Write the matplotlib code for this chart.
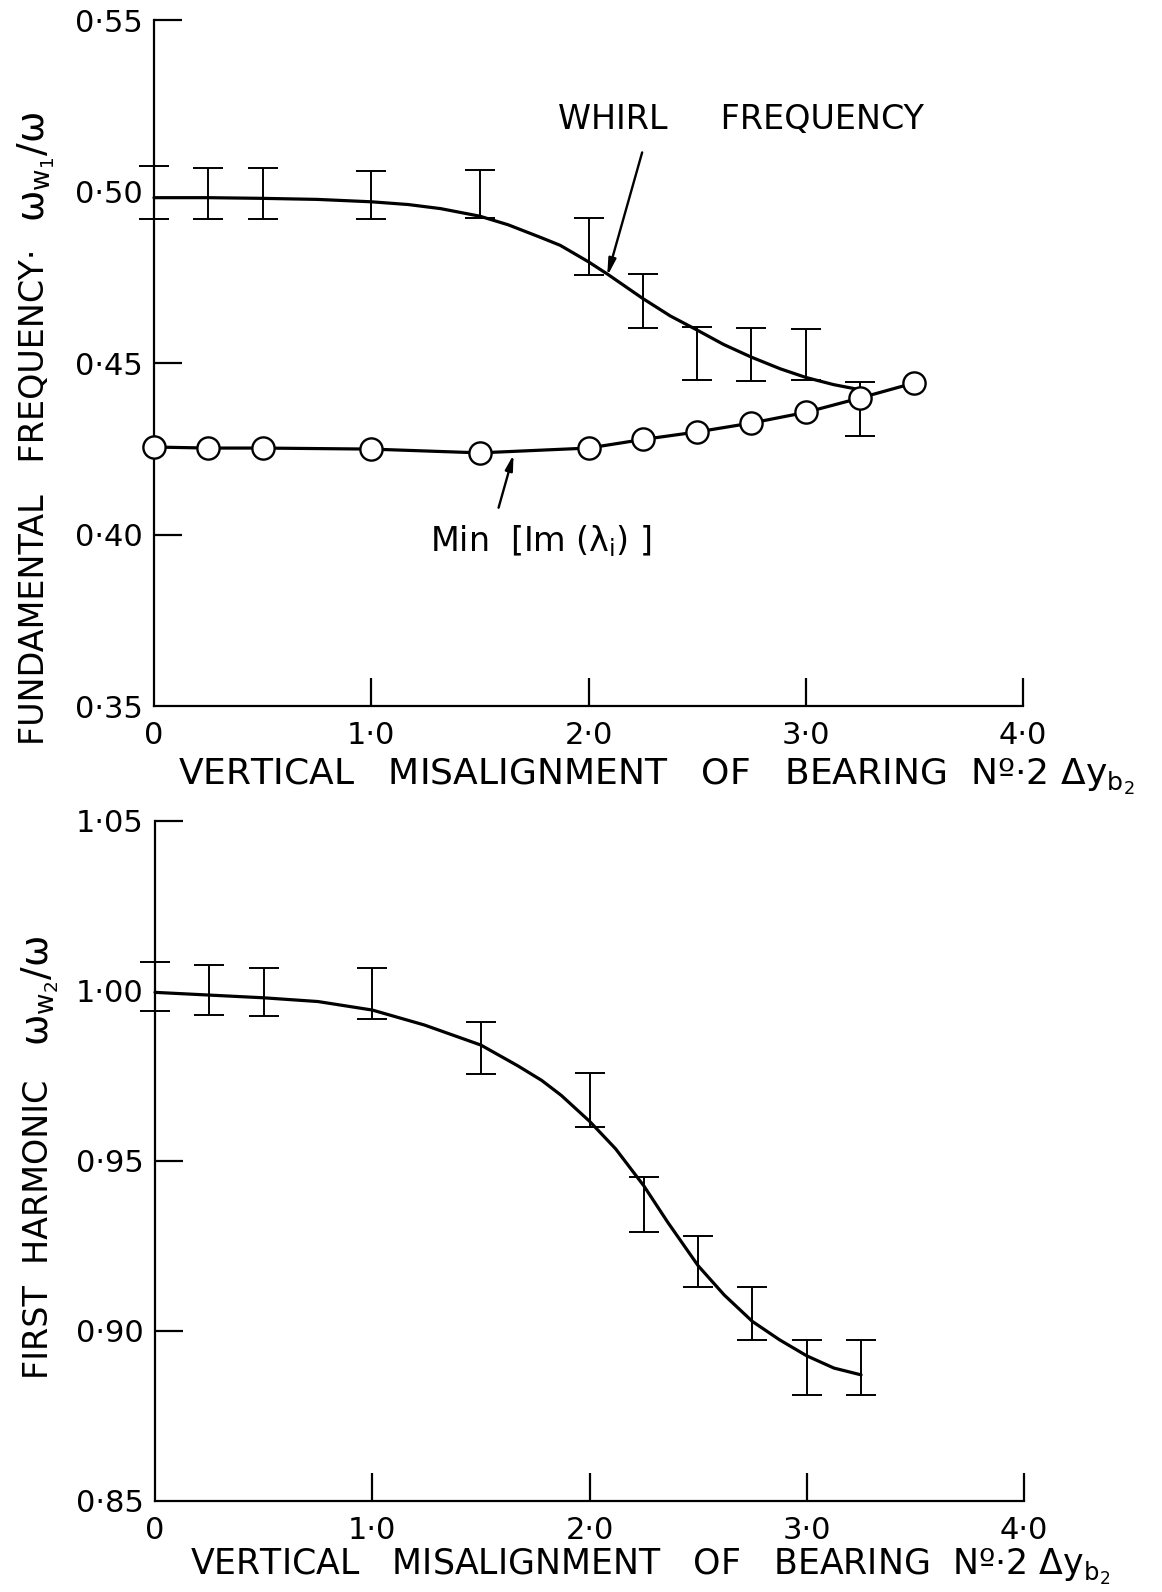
import matplotlib
matplotlib.use("Agg")
import matplotlib.pyplot as plt

# ---------------- data ----------------
# Top panel: fundamental (whirl) frequency, measured values with error bars
top_bar_x = [0.0, 0.25, 0.5, 1.0, 1.5, 2.0, 2.25, 2.5, 2.75, 3.0, 3.25]
top_bar_y = [0.4997, 0.4995, 0.4995, 0.4991, 0.4992, 0.4840, 0.4680, 0.4527, 0.4524, 0.4525, 0.4365]
top_bar_err = [0.0076, 0.0074, 0.0074, 0.0070, 0.0070, 0.0082, 0.0079, 0.0077, 0.0077, 0.0075, 0.0079]

# Top panel: smooth whirl-frequency curve
top_curve_x = [0.0, 0.25, 0.5, 0.75, 1.0, 1.17, 1.32, 1.5, 1.63, 1.78, 1.87, 2.0, 2.09,
               2.25, 2.377, 2.5, 2.622, 2.75, 2.883, 3.0, 3.128, 3.25]
top_curve_y = [0.4982, 0.4982, 0.4980, 0.4977, 0.4970, 0.4962, 0.4950, 0.4928, 0.4903, 0.4866,
               0.4843, 0.4795, 0.4758, 0.4688, 0.4637, 0.4596, 0.4554, 0.4517, 0.4483, 0.4458,
               0.4437, 0.4422]

# Top panel: Min[Im(lambda_i)] (open circles)
min_x = [0.0, 0.25, 0.5, 1.0, 1.5, 2.0, 2.25, 2.5, 2.75, 3.0, 3.25, 3.5]
min_y = [0.4255, 0.4252, 0.4252, 0.4249, 0.4238, 0.4252, 0.4277, 0.4299, 0.4325, 0.4356,
         0.4398, 0.4442]

# Bottom panel: first harmonic, measured values with error bars
bot_bar_x = [0.0, 0.25, 0.5, 1.0, 1.5, 2.0, 2.25, 2.5, 2.75, 3.0, 3.25]
bot_bar_y = [1.0013, 1.0003, 0.9998, 0.9994, 0.9832, 0.9679, 0.9372, 0.9204, 0.9052, 0.8893, 0.8893]
bot_bar_err = [0.0072, 0.0073, 0.0071, 0.0075, 0.0077, 0.0080, 0.0082, 0.0074, 0.0078, 0.0081, 0.0081]

# Bottom panel: smooth curve
bot_curve_x = [0.0, 0.25, 0.5, 0.75, 1.0, 1.24, 1.5, 1.67, 1.78, 1.87, 2.0, 2.12, 2.25, 2.36,
               2.5, 2.62, 2.75, 2.875, 3.0, 3.125, 3.25]
bot_curve_y = [0.9996, 0.9988, 0.9980, 0.9969, 0.9944, 0.9900, 0.9841, 0.9780, 0.9737, 0.9693,
               0.9617, 0.9536, 0.9427, 0.9320, 0.9192, 0.9106, 0.9028, 0.8974, 0.8927, 0.8891,
               0.8871]

x_ticks = [0, 1, 2, 3, 4]
x_ticklabels = ["0", "1·0", "2·0", "3·0", "4·0"]
top_yticks = [0.35, 0.40, 0.45, 0.50, 0.55]
top_yticklabels = ["0·35", "0·40", "0·45", "0·50", "0·55"]
bot_yticks = [0.85, 0.90, 0.95, 1.00, 1.05]
bot_yticklabels = ["0·85", "0·90", "0·95", "1·00", "1·05"]

xlabel_text = r"VERTICAL   MISALIGNMENT   OF   BEARING  Nº·2 Δy$_{\mathrm{b}_2}$"
top_ylabel_words = "FUNDAMENTAL   FREQUENCY·"
top_ylabel_math = r"ω$_{\mathrm{w}_1}$/ω"
bot_ylabel_words = "FIRST  HARMONIC"
bot_ylabel_math = r"ω$_{\mathrm{w}_2}$/ω"
whirl_text = "WHIRL     FREQUENCY"
min_text = r"Min  [Im (λ$_{\mathrm{i}}$) ]"

# ---------------- style ----------------
plt.rcParams["font.family"] = ["DejaVu Sans"]
plt.rcParams["mathtext.fontset"] = "dejavusans"

W, H = 1162, 1592
fig = plt.figure(figsize=(W / 100, H / 100), dpi=100)


def px_axes(left, top, right, bottom):
    return fig.add_axes([left / W, 1 - bottom / H, (right - left) / W, (bottom - top) / H])


ax1 = px_axes(154, 20, 1023, 706)
ax2 = px_axes(155, 821, 1024, 1501)

CURVE_LW = 2.3
BAR_LW = 1.4
SPINE_LW = 1.6
TICK_FS = 22
LABEL_FS = 24
MATH_FS = 27


def style_axes(ax, yticks, yticklabels, ylim, hide_ytick_at):
    ax.set_xlim(0, 4)
    ax.set_ylim(*ylim)
    for s in ["top", "right"]:
        ax.spines[s].set_visible(False)
    for s in ["left", "bottom"]:
        ax.spines[s].set_linewidth(SPINE_LW)
    ax.set_xticks(x_ticks)
    ax.set_xticklabels(x_ticklabels, fontsize=TICK_FS)
    ax.set_yticks(yticks)
    ax.set_yticklabels(yticklabels, fontsize=TICK_FS)
    ax.tick_params(axis="both", direction="in", length=20, width=SPINE_LW)
    ax.tick_params(axis="y", pad=8)
    ax.tick_params(axis="x", pad=11)
    # hide tick marks that coincide with other drawn lines
    ax.xaxis.get_major_ticks()[0].tick1line.set_visible(False)
    ax.yaxis.get_major_ticks()[0].tick1line.set_visible(False)
    ax.yaxis.get_major_ticks()[hide_ytick_at].tick1line.set_visible(False)


style_axes(ax1, top_yticks, top_yticklabels, (0.35, 0.55), 3)
style_axes(ax2, bot_yticks, bot_yticklabels, (0.85, 1.05), 3)


def draw_bars(ax, x, y, e):
    cont = ax.errorbar(x, y, yerr=e, fmt="none", ecolor="black", elinewidth=BAR_LW,
                       capsize=11, capthick=BAR_LW, zorder=3)
    for art in cont.lines[1]:
        art.set_clip_on(False)
    for art in cont.lines[2]:
        art.set_clip_on(False)


# ---- top panel ----
ax1.plot(top_curve_x, top_curve_y, color="black", lw=CURVE_LW, solid_capstyle="round",
         solid_joinstyle="round", zorder=2, clip_on=False)
draw_bars(ax1, top_bar_x, top_bar_y, top_bar_err)
ax1.plot(min_x, min_y, color="black", lw=CURVE_LW, marker="o", markersize=16,
         markerfacecolor="white", markeredgecolor="black", markeredgewidth=1.7,
         zorder=4, clip_on=False)

ax1.text(2.70, 0.5211, whirl_text, fontsize=24, ha="center", va="center")
ax1.annotate("", xy=(2.086, 0.4753), xytext=(2.247, 0.5114),
             arrowprops=dict(arrowstyle="-|>,head_length=1.0,head_width=0.22",
                             color="black", lw=1.7, shrinkA=0, shrinkB=0))
ax1.text(1.78, 0.3982, min_text, fontsize=24, ha="center", va="center")
ax1.annotate("", xy=(1.655, 0.4233), xytext=(1.586, 0.4078),
             arrowprops=dict(arrowstyle="-|>,head_length=0.9,head_width=0.22",
                             color="black", lw=1.7, shrinkA=0, shrinkB=0))

# ---- bottom panel ----
ax2.plot(bot_curve_x, bot_curve_y, color="black", lw=CURVE_LW, solid_capstyle="round",
         solid_joinstyle="round", zorder=2, clip_on=False)
draw_bars(ax2, bot_bar_x, bot_bar_y, bot_bar_err)

# ---- axis labels ----
ax1.set_xlabel(xlabel_text, fontsize=26)
ax1.xaxis.set_label_coords(0.578, -0.103)
ax1.xaxis.label.set_va("center")
ax2.set_xlabel(xlabel_text, fontsize=25)
ax2.xaxis.set_label_coords(0.570, -0.097)
ax2.xaxis.label.set_va("center")

ax1.set_ylabel(top_ylabel_words, fontsize=LABEL_FS)
ax1.yaxis.set_label_coords(-0.137, 0.305)
ax1.yaxis.label.set_va("center")
ax1.text(-0.136, 0.786, top_ylabel_math, fontsize=MATH_FS, rotation=90,
         ha="center", va="center", transform=ax1.transAxes)

ax2.set_ylabel(bot_ylabel_words, fontsize=LABEL_FS)
ax2.yaxis.set_label_coords(-0.1335, 0.40)
ax2.yaxis.label.set_va("center")
ax2.text(-0.132, 0.75, bot_ylabel_math, fontsize=MATH_FS, rotation=90,
         ha="center", va="center", transform=ax2.transAxes)

fig.savefig("out.png", dpi=100)
